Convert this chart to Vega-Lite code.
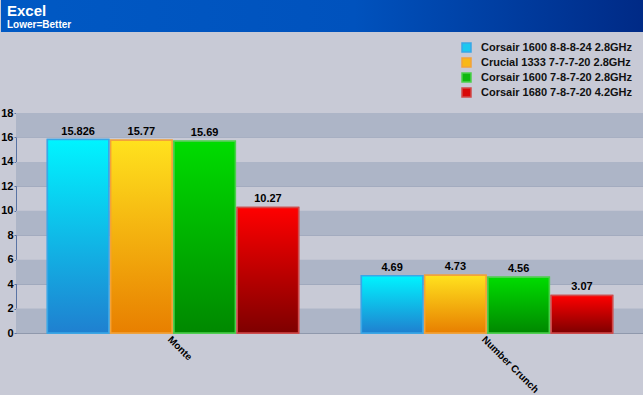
{
  "$schema": "https://vega.github.io/schema/vega-lite/v6.json",
  "background": "#c8cad6",
  "padding": 0,
  "spacing": 75,
  "columns": 1,
  "align": "none",
  "config": {
    "view": {"stroke": null},
    "font": "Liberation Sans"
  },
  "concat": [
    {
      "width": 628,
      "height": 32,
      "title": {
        "text": "Excel",
        "subtitle": "Lower=Better",
        "anchor": "start",
        "frame": "group",
        "orient": "top",
        "offset": -30,
        "dx": -9,
        "color": "#ffffff",
        "subtitleColor": "#ffffff",
        "font": "Liberation Sans",
        "subtitleFont": "Liberation Sans",
        "fontSize": 15,
        "subtitleFontSize": 10,
        "fontWeight": "bold",
        "subtitleFontWeight": "bold",
        "subtitlePadding": 1
      },
      "data": {"values": [{"k": 1}]},
      "mark": {
        "type": "rect",
        "clip": false,
        "fill": {
          "gradient": "linear",
          "x1": 0, "y1": 0, "x2": 1, "y2": 0,
          "stops": [
            {"offset": 0, "color": "#0059c4"},
            {"offset": 0.55, "color": "#0052bd"},
            {"offset": 1, "color": "#002a86"}
          ]
        }
      },
      "encoding": {
        "x": {"value": -15},
        "x2": {"value": "width"},
        "y": {"value": 0},
        "y2": {"value": "height"}
      }
    },
    {
      "width": 628,
      "height": 220,
      "layer": [
        {
          "data": {"values": [
            {"lo": 0, "hi": 2}, {"lo": 4, "hi": 6}, {"lo": 8, "hi": 10}, {"lo": 12, "hi": 14}, {"lo": 16, "hi": 18}
          ]},
          "mark": {"type": "rect", "color": "#adb5c7"},
          "encoding": {
            "y": {
              "field": "lo", "type": "quantitative", "scale": {"domain": [0, 18]},
              "axis": {
                "title": null, "values": [0, 2, 4, 6, 8, 10, 12, 14, 16, 18], "labelOverlap": false,
                "labelFontWeight": "bold", "labelFontSize": 11, "labelColor": "#000000",
                "domainColor": "#5a74a4", "tickColor": "#5a74a4", "tickSize": 2, "labelPadding": 1,
                "grid": true, "gridColor": "#a0a9bd"
              }
            },
            "y2": {"field": "hi"}
          }
        },
        {
          "data": {"values": [
            {"test": "Monte", "mem": "Corsair 1600 8-8-8-24 2.8GHz", "v": 15.826, "lbl": "15.826"},
            {"test": "Monte", "mem": "Crucial 1333 7-7-7-20 2.8GHz", "v": 15.77, "lbl": "15.77"},
            {"test": "Monte", "mem": "Corsair 1600 7-8-7-20  2.8GHz", "v": 15.69, "lbl": "15.69"},
            {"test": "Monte", "mem": "Corsair 1680 7-8-7-20  4.2GHz", "v": 10.27, "lbl": "10.27"},
            {"test": "Number Crunch", "mem": "Corsair 1600 8-8-8-24 2.8GHz", "v": 4.69, "lbl": "4.69"},
            {"test": "Number Crunch", "mem": "Crucial 1333 7-7-7-20 2.8GHz", "v": 4.73, "lbl": "4.73"},
            {"test": "Number Crunch", "mem": "Corsair 1600 7-8-7-20  2.8GHz", "v": 4.56, "lbl": "4.56"},
            {"test": "Number Crunch", "mem": "Corsair 1680 7-8-7-20  4.2GHz", "v": 3.07, "lbl": "3.07"}
          ]},
          "encoding": {
            "x": {
              "field": "test", "type": "nominal",
              "scale": {"paddingInner": 0.2, "paddingOuter": 0.1},
              "axis": {
                "title": null, "labelAngle": 45, "labelFontWeight": "bold", "labelFontSize": 10,
                "labelColor": "#000000", "ticks": false, "domainColor": "#8f98ac", "labelPadding": 1
              }
            },
            "xOffset": {
              "field": "mem", "type": "nominal",
              "sort": ["Corsair 1600 8-8-8-24 2.8GHz", "Crucial 1333 7-7-7-20 2.8GHz", "Corsair 1600 7-8-7-20  2.8GHz", "Corsair 1680 7-8-7-20  4.2GHz"],
              "scale": {"paddingInner": 0.03, "paddingOuter": 0}
            },
            "y": {
              "field": "v", "type": "quantitative",
              "scale": {"domain": [0, 18]},
              "axis": {
                "title": null, "values": [0, 2, 4, 6, 8, 10, 12, 14, 16, 18], "labelOverlap": false,
                "labelFontWeight": "bold", "labelFontSize": 11, "labelColor": "#000000",
                "domainColor": "#5a74a4", "tickColor": "#5a74a4", "tickSize": 2, "labelPadding": 1,
                "grid": true, "gridColor": "#a0a9bd"
              }
            }
          },
          "layer": [
            {
              "mark": {"type": "bar", "strokeWidth": 1.5},
              "encoding": {
                "fill": {
                  "field": "mem", "type": "nominal",
                  "scale": {
                    "domain": ["Corsair 1600 8-8-8-24 2.8GHz", "Crucial 1333 7-7-7-20 2.8GHz", "Corsair 1600 7-8-7-20  2.8GHz", "Corsair 1680 7-8-7-20  4.2GHz"],
                    "range": ["#1cc8f0", "#f8b818", "#10b810", "#d80808"]
                  },
                  "legend": {
                    "title": null, "orient": "none", "legendX": 445, "legendY": 42,
                    "labelFontWeight": "bold", "labelFontSize": 11, "labelColor": "#111111",
                    "symbolType": "square", "symbolSize": 81, "labelOffset": 9, "rowPadding": 0
                  }
                },
                "stroke": {
                  "field": "mem", "type": "nominal",
                  "scale": {
                    "domain": ["Corsair 1600 8-8-8-24 2.8GHz", "Crucial 1333 7-7-7-20 2.8GHz", "Corsair 1600 7-8-7-20  2.8GHz", "Corsair 1680 7-8-7-20  4.2GHz"],
                    "range": ["#3aa6e6", "#f2a23a", "#4ccf4c", "#cf4a4a"]
                  }
                }
              }
            },
            {
              "transform": [{"filter": "datum.mem === 'Corsair 1600 8-8-8-24 2.8GHz'"}],
              "mark": {"type": "bar", "strokeWidth": 1.5, "stroke": "#3aa6e6",
                "fill": {"gradient": "linear", "x1": 0, "y1": 0, "x2": 0, "y2": 1, "stops": [{"offset": 0, "color": "#00f4ff"}, {"offset": 1, "color": "#1f80d0"}]}}
            },
            {
              "transform": [{"filter": "datum.mem === 'Crucial 1333 7-7-7-20 2.8GHz'"}],
              "mark": {"type": "bar", "strokeWidth": 1.5, "stroke": "#f2a23a",
                "fill": {"gradient": "linear", "x1": 0, "y1": 0, "x2": 0, "y2": 1, "stops": [{"offset": 0, "color": "#ffe21e"}, {"offset": 1, "color": "#e87f00"}]}}
            },
            {
              "transform": [{"filter": "datum.mem === 'Corsair 1600 7-8-7-20  2.8GHz'"}],
              "mark": {"type": "bar", "strokeWidth": 1.5, "stroke": "#4ccf4c",
                "fill": {"gradient": "linear", "x1": 0, "y1": 0, "x2": 0, "y2": 1, "stops": [{"offset": 0, "color": "#00dc00"}, {"offset": 1, "color": "#008800"}]}}
            },
            {
              "transform": [{"filter": "datum.mem === 'Corsair 1680 7-8-7-20  4.2GHz'"}],
              "mark": {"type": "bar", "strokeWidth": 1.5, "stroke": "#cf4a4a",
                "fill": {"gradient": "linear", "x1": 0, "y1": 0, "x2": 0, "y2": 1, "stops": [{"offset": 0, "color": "#ff0000"}, {"offset": 1, "color": "#7e0000"}]}}
            },
            {
              "mark": {"type": "text", "dy": -8, "fontWeight": "bold", "fontSize": 11, "color": "#000000", "font": "Liberation Sans"},
              "encoding": {"text": {"field": "lbl"}}
            }
          ]
        }
      ]
    }
  ]
}
